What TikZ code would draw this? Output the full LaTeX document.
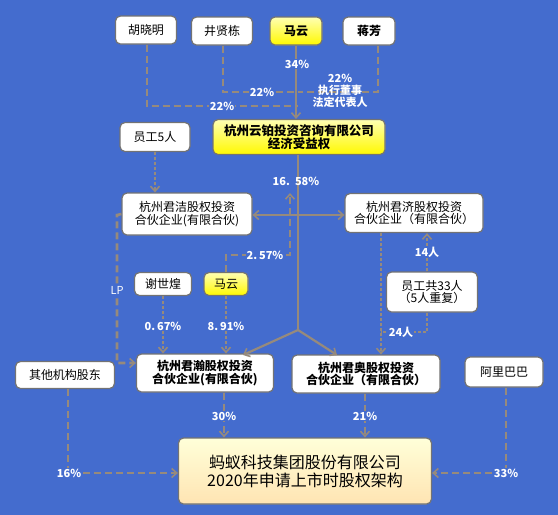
\documentclass[tikz,border=0pt]{standalone}
\usepackage{fontspec}
\setmainfont{Noto Sans CJK SC}
\usetikzlibrary{arrows.meta,calc}
\definecolor{bg}{RGB}{68,108,206}
\definecolor{ln}{RGB}{150,138,124}
\definecolor{bd}{RGB}{115,115,115}
\begin{document}
\begin{tikzpicture}[x=1pt,y=-1pt,
  box/.style={draw=bd,line width=1.2pt,rounded corners=5pt,fill=white,align=center,inner sep=0pt,font=\fontsize{12}{12.5}\selectfont},
  ybox/.style={box,top color=yellow!30!white,bottom color=yellow!95!orange,font=\fontsize{12}{12.5}\selectfont\bfseries},
  lab/.style={text=white,font=\fontsize{11}{12}\selectfont\bfseries,inner sep=1pt,fill=bg},
  labn/.style={text=white,font=\fontsize{11}{12}\selectfont\bfseries,inner sep=1pt},
  sl/.style={draw=ln,line width=2.2pt},
  dl/.style={draw=ln,line width=2.6pt,dash pattern=on 7pt off 4pt},
  ol/.style={draw=ln,line width=2.6pt,dash pattern=on 3pt off 2pt},
  tip/.style={-{Straight Barb[length=5pt,width=9pt,line width=1.6pt]}}
]
\fill[bg] (0,0) rectangle (558,515);
\useasboundingbox (0,0) rectangle (558,515);

% top row
\node[box,minimum width=61,minimum height=28] (hu) at (146,30) {胡晓明};
\node[box,minimum width=61,minimum height=28] (jing) at (222,31) {井贤栋};
\node[ybox,minimum width=52,minimum height=28] (ma1) at (296,31) {马云};
\node[box,minimum width=52,minimum height=28,font=\fontsize{12}{12.5}\selectfont\bfseries] (jiang) at (369,31) {蒋芳};

\node[ybox,minimum width=172,minimum height=35,font=\fontsize{12.5}{13.5}\selectfont\bfseries] (yunbo) at (299,137) {杭州云铂投资咨询有限公司\\经济受益权};
\node[box,minimum width=70,minimum height=29] (yg5) at (155,137) {员工5人};

\node[box,minimum width=130,minimum height=42] (jiejie) at (187,214) {杭州君洁股权投资\\合伙企业(有限合伙)};
\node[box,minimum width=138,minimum height=39] (junji) at (414,213) {杭州君济股权投资\\合伙企业（有限合伙）};

\node[box,minimum width=57,minimum height=23] (xie) at (163,284) {谢世煌};
\node[ybox,minimum width=44,minimum height=23,font=\fontsize{12}{12.5}\selectfont] (ma2) at (226,284) {马云};
\node[box,minimum width=91,minimum height=40] (yg33) at (432,292) {员工共33人\\（5人重复）};

\node[box,minimum width=137,minimum height=38,font=\fontsize{12}{12.5}\selectfont\bfseries] (junhan) at (205,373) {杭州君瀚股权投资\\合伙企业(有限合伙)};
\node[box,minimum width=99,minimum height=27] (other) at (65,375) {其他机构股东};
\node[box,minimum width=148,minimum height=38,font=\fontsize{12}{12.5}\selectfont\bfseries] (junao) at (366,374) {杭州君奥股权投资\\合伙企业（有限合伙）};
\node[box,minimum width=78,minimum height=30] (ali) at (504,372) {阿里巴巴};

\node[box,minimum width=253,minimum height=66,top color=white!85!yellow,bottom color=yellow!30!orange!30!white,font=\fontsize{16}{18}\selectfont] (ant) at (305,471) {蚂蚁科技集团股份有限公司\\2020年申请上市时股权架构};

% coordinates
\coordinate (c106) at (298,106);
\coordinate (c92) at (298,92);
\coordinate (split) at (298,330);
\coordinate (mid215) at (298,215);
\coordinate (lp) at (117,215);
\coordinate (lpb) at (117,363);
\coordinate (up) at (290,193);
\coordinate (ma2a) at (226,255);
\coordinate (ma2b) at (290,255);
\coordinate (e24) at (381,332);

% top lines
\draw[dl] ([xshift=1]hu.south) |- (c106);
\draw[dl] ([xshift=1]jing.south) |- (c92);
\draw[dl] ([xshift=9]jiang.south) |- (c92);
\draw[sl,tip] (ma1.south) -- (ma1.south |- yunbo.north);

% main trunk
\draw[sl] ([xshift=-1]yunbo.south) -- (split);
\draw[sl,tip] (mid215) -- (jiejie.east |- mid215);
\draw[sl,tip] (mid215) -- (junji.west |- mid215);
\draw[sl,tip] (split) -- (243,355);
\draw[sl,tip] (split) -- (337,355);

% 马云 small to trunk
\draw[dl,tip] (ma2.north) -- (ma2a) -- (ma2b) -- (up);

% 员工5人
\draw[ol,tip] (yg5.south) -- (yg5.south |- jiejie.north);
% LP
\draw[dl,tip] (jiejie.west) -- (lp) -- (lpb) -- (junhan.west |- lpb);

\draw[ol,tip] (xie.south) -- (xie.south |- junhan.north);
\draw[ol,tip] (ma2.south) -- (ma2.south |- junhan.north);

% 君济 and 员工
\draw[ol,tip] (junji.south -| e24) -- (junao.north -| e24);
\draw[ol,tip] ([xshift=-5]yg33.north) -- ([xshift=-5]yg33.north |- junji.south);
\draw[ol] ([xshift=-5]yg33.south) |- (e24);

% bottom
\draw[dl,tip] (junhan.south -| 224,0) -- (ant.north -| 224,0);
\draw[dl,tip] (junao.south -| 365,0) -- (ant.north -| 365,0);
\draw[dl,tip] (other.south -| 68,0) |- (ant.west |- 0,473);
\draw[dl,tip] (ali.south -| 506,0) |- (ant.east |- 0,473);

% labels
\node[lab] (l1) at (222,106) {22\%};
\node[lab] (l2) at (262,92) {22\%};
\node[lab] (l3) at (297,64) {34\%};
\node[labn,align=center,font=\fontsize{11}{12}\selectfont\bfseries] (l4) at (340,91) {22\%\\执行董事\\法定代表人};
\node[labn] (l5) at (296,181) {16.\ \ 58\%};
\node[lab] (l6) at (265,255) {2.\,57\%};
\node[lab,font=\fontsize{11}{12}\selectfont] (l7) at (117,290) {LP};
\node[lab] (l8) at (163,326) {0.\,67\%};
\node[lab] (l9) at (226,326) {8.\,91\%};
\node[lab] (l10) at (427,252) {14人};
\node[lab] (l11) at (401,332) {24人};
\node[lab] (l12) at (224,416) {30\%};
\node[lab] (l13) at (365,416) {21\%};
\node[lab] (l14) at (69,473) {16\%};
\node[lab] (l15) at (506,473) {33\%};
\end{tikzpicture}
\end{document}
